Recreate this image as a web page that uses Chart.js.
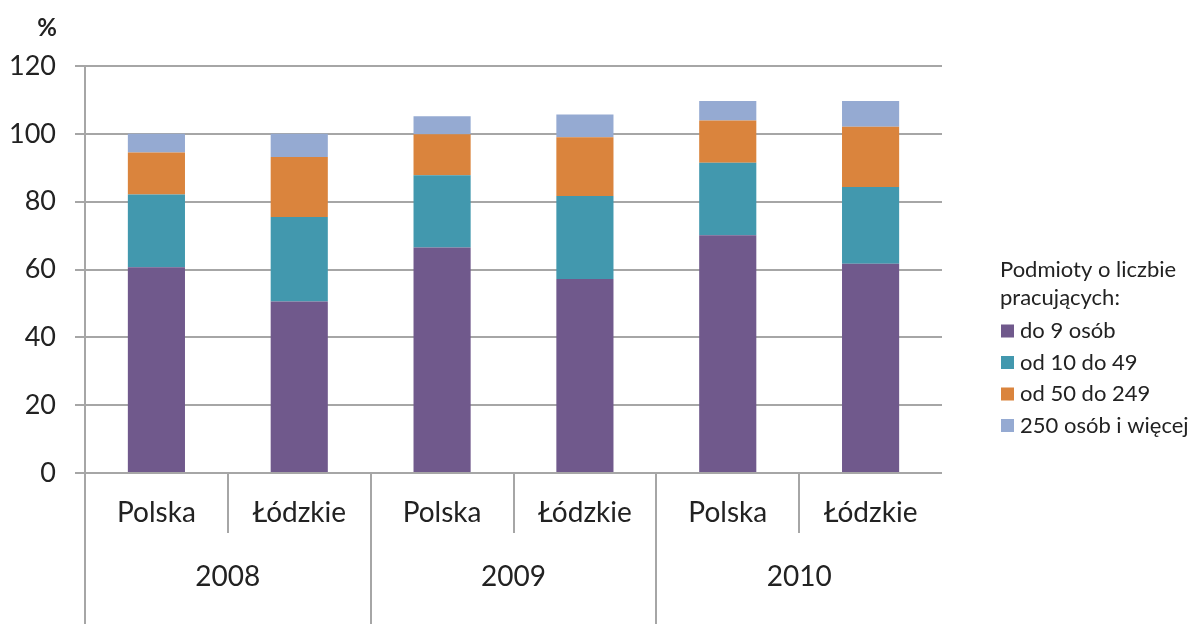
<!DOCTYPE html>
<html>
<head>
<meta charset="utf-8">
<script src="https://cdn.jsdelivr.net/npm/chart.js@4/dist/chart.umd.min.js"></script>
<style>
  html, body { margin: 0; padding: 0; background: #fff; }
  #wrap { width: 1198px; height: 624px; position: relative; }
</style>
</head>
<body>
<div id="wrap"><canvas id="c" width="1198" height="624"></canvas></div>
<script>
const categories = ['Polska', 'Łódzkie', 'Polska', 'Łódzkie', 'Polska', 'Łódzkie'];
const years = ['2008', '2009', '2010'];
const seriesNames = ['do 9 osób', 'od 10 do 49', 'od 50 do 249', '250 osób i więcej'];
const do9 = [60.7, 50.6, 66.5, 57.2, 70.1, 61.7];
const od10do49 = [21.4, 24.9, 21.3, 24.5, 21.4, 22.6];
const od50do249 = [12.4, 17.7, 12.1, 17.3, 12.4, 17.8];
const od250 = [5.5, 6.8, 5.3, 6.7, 5.8, 7.6];
const yTicks = [0, 20, 40, 60, 80, 100, 120];
const legendTitle = ['Podmioty o liczbie', 'pracujących:'];
const yUnit = '%';

const colors = ['#70598C', '#4298AE', '#DA843D', '#95AAD2'];
const FONT = 'Lato, "Open Sans", sans-serif';
const GRID = '#a6a6a6';
const TEXT = '#222';

const seriesData = [do9, od10do49, od50do249, od250];

const extras = {
  id: 'extras',
  afterDraw(chart) {
    const ctx = chart.ctx;
    const x = chart.scales.x, y = chart.scales.y;
    const ca = chart.chartArea;
    ctx.save();
    ctx.strokeStyle = GRID;
    ctx.lineWidth = 2;
    ctx.beginPath();
    ctx.moveTo(ca.left, y.getPixelForValue(120));
    ctx.lineTo(ca.left, chart.height);
    ctx.stroke();
    ctx.beginPath();
    ctx.moveTo(ca.left - 10, ca.bottom);
    ctx.lineTo(ca.right, ca.bottom);
    ctx.stroke();
    const step = (x.getPixelForValue(1) - x.getPixelForValue(0));
    for (let i = 1; i < categories.length; i++) {
      const px = Math.round(x.getPixelForValue(i) - step / 2);
      ctx.beginPath();
      ctx.moveTo(px, ca.bottom);
      ctx.lineTo(px, i % 2 === 0 ? chart.height : ca.bottom + 60);
      ctx.stroke();
    }
    ctx.fillStyle = TEXT;
    ctx.font = '28px ' + FONT;
    ctx.textAlign = 'center';
    ctx.textBaseline = 'middle';
    years.forEach((yr, k) => {
      const cx = (x.getPixelForValue(2 * k) + x.getPixelForValue(2 * k + 1)) / 2;
      ctx.fillText(yr, cx, 577);
    });
    ctx.font = 'bold 24px ' + FONT;
    ctx.textAlign = 'right';
    ctx.fillText(yUnit, 57, 28);
    ctx.font = '22px ' + FONT;
    ctx.textAlign = 'left';
    ctx.fillText(legendTitle[0], 1000, 270);
    ctx.fillText(legendTitle[1], 1000, 298);
    seriesNames.forEach((n, i) => {
      const cy = 331 + i * 31.5;
      ctx.fillStyle = colors[i];
      ctx.fillRect(1001, cy - 6.5, 13, 13);
      ctx.fillStyle = TEXT;
      ctx.fillText(n, 1020, cy);
    });
    ctx.restore();
  }
};

new Chart(document.getElementById('c'), {
  type: 'bar',
  data: {
    labels: categories,
    datasets: seriesData.map((d, i) => ({
      label: seriesNames[i],
      data: d,
      backgroundColor: colors[i],
      borderWidth: 0,
      categoryPercentage: 1,
      barPercentage: 0.4
    }))
  },
  options: {
    responsive: false,
    animation: false,
    devicePixelRatio: 1,
    layout: { padding: { top: 66, right: 256, left: 0, bottom: 0 } },
    plugins: { legend: { display: false }, tooltip: { enabled: false } },
    scales: {
      x: {
        stacked: true,
        grid: { display: false, drawTicks: false },
        border: { display: false },
        ticks: { color: TEXT, font: { family: FONT, size: 28 }, padding: 23, maxRotation: 0, autoSkip: false },
        afterFit: s => { s.height = 151; }
      },
      y: {
        stacked: true,
        min: 0, max: 120,
        afterBuildTicks: s => { s.ticks = yTicks.map(v => ({ value: v })); },
        grid: { color: GRID, lineWidth: 2, tickLength: 10, drawTicks: true },
        border: { display: false },
        ticks: { color: TEXT, font: { family: FONT, size: 27 }, padding: 19 },
        afterFit: s => { s.width = 85; }
      }
    }
  },
  plugins: [extras]
});
</script>
</body>
</html>
